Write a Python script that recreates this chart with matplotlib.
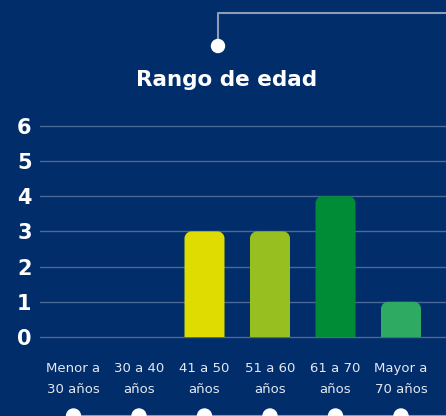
import matplotlib
matplotlib.use("Agg")
import matplotlib.pyplot as plt
from matplotlib.patches import Circle, PathPatch
from matplotlib.path import Path
from matplotlib.lines import Line2D

categories = ["Menor a\n30 años", "30 a 40\naños", "41 a 50\naños", "51 a 60\naños", "61 a 70\naños", "Mayor a\n70 años"]
values = [0, 0, 3, 3, 4, 1]
bar_colors = ["#DEDC00", "#DEDC00", "#DEDC00", "#97BF1F", "#008C36", "#2EAA63"]
yticks = [0, 1, 2, 3, 4, 5, 6]
title = "Rango de edad"

BG = "#012D6B"
W, H = 446, 416
fig = plt.figure(figsize=(W / 100, H / 100), dpi=100, facecolor=BG)

px_per_x = 65.5
x_left = (40 - 73.5) / px_per_x
x_right = (446 - 73.5) / px_per_x
ymin, ymax = -0.05, 6.25
px_per_y = 35.2
bottom_px = 337 + (-ymin) * px_per_y
top_px = 337 - ymax * px_per_y
ax = fig.add_axes([40 / W, (H - bottom_px) / H, 406 / W, (bottom_px - top_px) / H])
ax.set_facecolor(BG)
ax.set_xlim(x_left, x_right)
ax.set_ylim(ymin, ymax)
for s in ax.spines.values():
    s.set_visible(False)

for y in yticks:
    ax.axhline(y, color="#4A6898", lw=1.0, zorder=1)

bw = 40 / px_per_x
r_px = 7.0
rx = r_px / px_per_x
ry = r_px / px_per_y
k = 0.5523


def rounded_top_bar(x0, w, h):
    x1 = x0 + w
    verts = [
        (x0, 0), (x1, 0), (x1, h - ry),
        (x1, h - ry + k * ry), (x1 - rx + k * rx, h), (x1 - rx, h),
        (x0 + rx, h),
        (x0 + rx - k * rx, h), (x0, h - ry + k * ry), (x0, h - ry),
        (x0, 0),
    ]
    codes = [Path.MOVETO, Path.LINETO, Path.LINETO,
             Path.CURVE4, Path.CURVE4, Path.CURVE4,
             Path.LINETO,
             Path.CURVE4, Path.CURVE4, Path.CURVE4,
             Path.CLOSEPOLY]
    return Path(verts, codes)


for i, (v, c) in enumerate(zip(values, bar_colors)):
    if v <= 0:
        continue
    ax.add_patch(PathPatch(rounded_top_bar(i - bw / 2, bw, v),
                           facecolor=c, edgecolor="none", zorder=2))

ax.set_yticks(yticks)
ax.set_yticklabels([str(t) for t in yticks], color="white", fontsize=15,
                   fontweight="bold", family="DejaVu Sans")
ax.set_xticks(range(len(categories)))
ax.set_xticklabels(categories, color="#E4E9F1", fontsize=9.5,
                   family="DejaVu Sans", fontweight="normal", linespacing=1.75)
ax.tick_params(axis="both", length=0)
ax.tick_params(axis="y", pad=6)
ax.tick_params(axis="x", pad=17)

ov = fig.add_axes([0, 0, 1, 1])
ov.set_xlim(0, W)
ov.set_ylim(H, 0)
ov.axis("off")
ov.patch.set_alpha(0)
lc = "#8E9CB8"
ov.add_line(Line2D([218, 218, W], [44, 13, 13], color=lc, lw=1.5))
ov.add_patch(Circle((218, 46), 6.5, color="white", zorder=5))
ov.text(226.5, 86, title, color="white", fontsize=15.5, fontweight="bold",
        ha="center", va="baseline", family="DejaVu Sans")

dot_x = [ax.transData.transform((i, 0))[0] for i in range(len(categories))]
ov.add_line(Line2D([dot_x[0], W], [415.5, 415.5], color=lc, lw=1.5))
for x in dot_x:
    ov.add_patch(Circle((x, 416), 7, color="white", zorder=5))

fig.savefig("out.png", dpi=100, facecolor=BG)
